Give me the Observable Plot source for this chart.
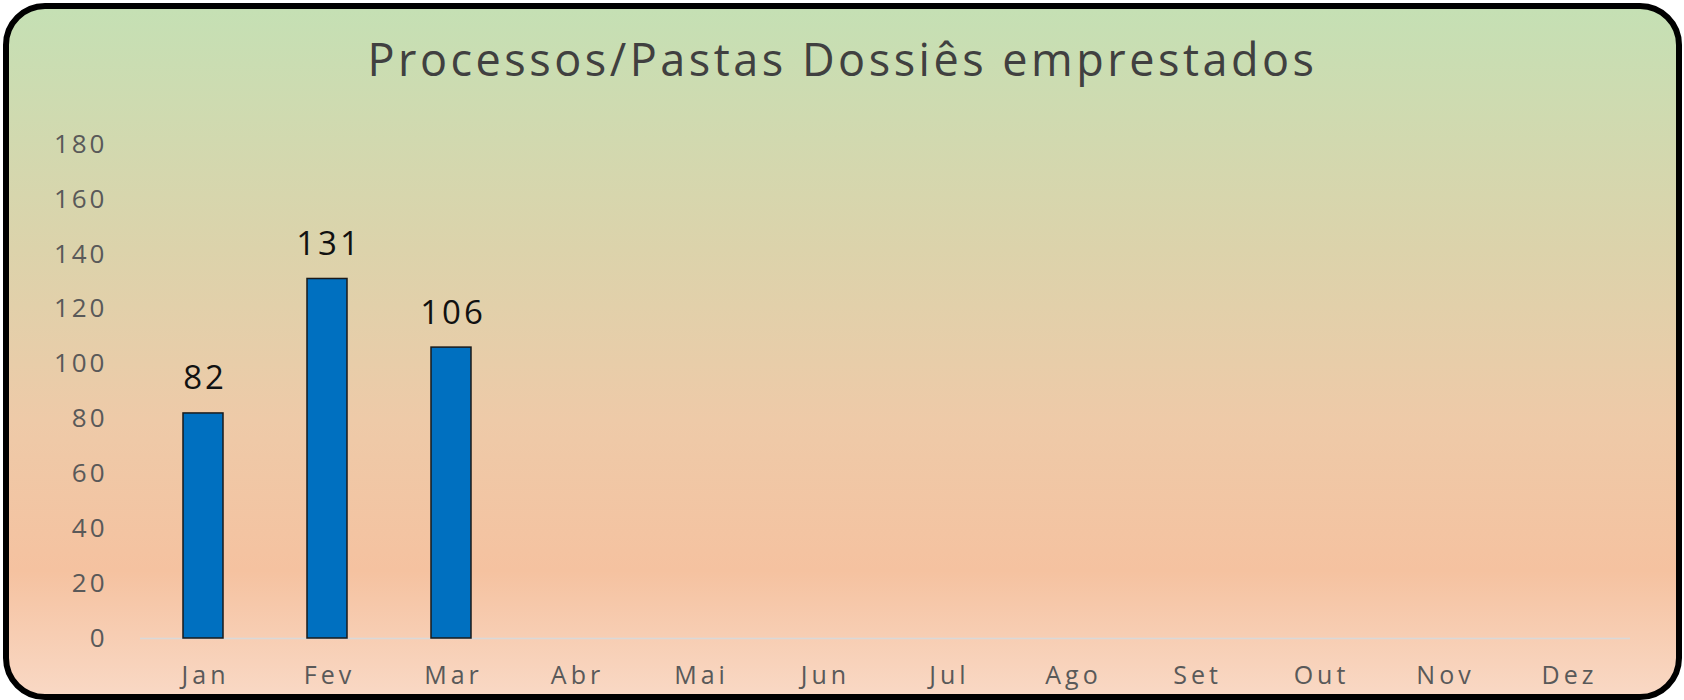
<!DOCTYPE html>
<html>
<head>
<meta charset="utf-8">
<script src="https://cdn.jsdelivr.net/npm/d3@7"></script>
<script src="https://cdn.jsdelivr.net/npm/@observablehq/plot@0.6"></script>
<style>
  html, body { margin: 0; padding: 0; background: #ffffff; width: 1684px; height: 700px; overflow: hidden; }
  #frame {
    position: absolute; left: 3px; top: 3px; width: 1679px; height: 697px;
    box-sizing: border-box; border: 6px solid #000; border-radius: 42px;
    background: linear-gradient(to bottom, #c5e0b4 0%, #dcd3ab 35%, #eecaa8 60%, #f5c2a0 82%, #f9d8c4 100%);
    overflow: hidden;
  }
  #title {
    position: absolute; left: 0; top: 27px; width: 100%; text-align: center;
    font-family: "Open Sans", sans-serif; font-size: 45px; line-height: 45px;
    color: #404040; letter-spacing: 3.5px; white-space: nowrap;
  }
  #chart { position: absolute; left: 0; top: 91px; }
  #chart g[aria-label="y-axis tick label"] text { letter-spacing: 3px; }
  #chart g[aria-label="x-axis tick label"] text { letter-spacing: 4px; }
  #chart g[aria-label="text"] text { letter-spacing: 3px; }
</style>
</head>
<body>
<div id="frame">
  <div id="title">Processos/Pastas Dossiês emprestados</div>
  <div id="chart"></div>
</div>
<script>
const months = ["Jan", "Fev", "Mar", "Abr", "Mai", "Jun", "Jul", "Ago", "Set", "Out", "Nov", "Dez"];
const values = [82, 131, 106];
const yTicks = [0, 20, 40, 60, 80, 100, 120, 140, 160, 180];

const data = values.map((v, i) => ({month: months[i], value: v}));

const chart = Plot.plot({
  width: 1667,
  height: 594,
  marginTop: 44,
  marginBottom: 56,
  marginLeft: 131,
  marginRight: 46,
  style: {background: "transparent", fontFamily: "'Open Sans', sans-serif", overflow: "visible"},
  x: {domain: months, paddingInner: 0.68, paddingOuter: 0.34, label: null},
  y: {domain: [0, 180], label: null},
  marks: [
    Plot.ruleY([0], {stroke: "#d9d9d9", strokeWidth: 1.5}),
    Plot.barY(data, {x: "month", y: "value", fill: "#0070c0", stroke: "#1a1a1a", strokeWidth: 1.5}),
    Plot.text(data, {x: "month", y: "value", text: d => String(d.value), lineAnchor: "bottom", dy: -24, dx: 1.5, fontSize: 33, fill: "#111"}),
    Plot.axisY({ticks: yTicks, tickSize: 0, tickPadding: 33, fontSize: 26, color: "#595959", label: null}),
    Plot.axisX({tickSize: 0, tickPadding: 28, fontSize: 25, color: "#595959", label: null, dx: 2})
  ]
});
document.getElementById("chart").appendChild(chart);
</script>
</body>
</html>
